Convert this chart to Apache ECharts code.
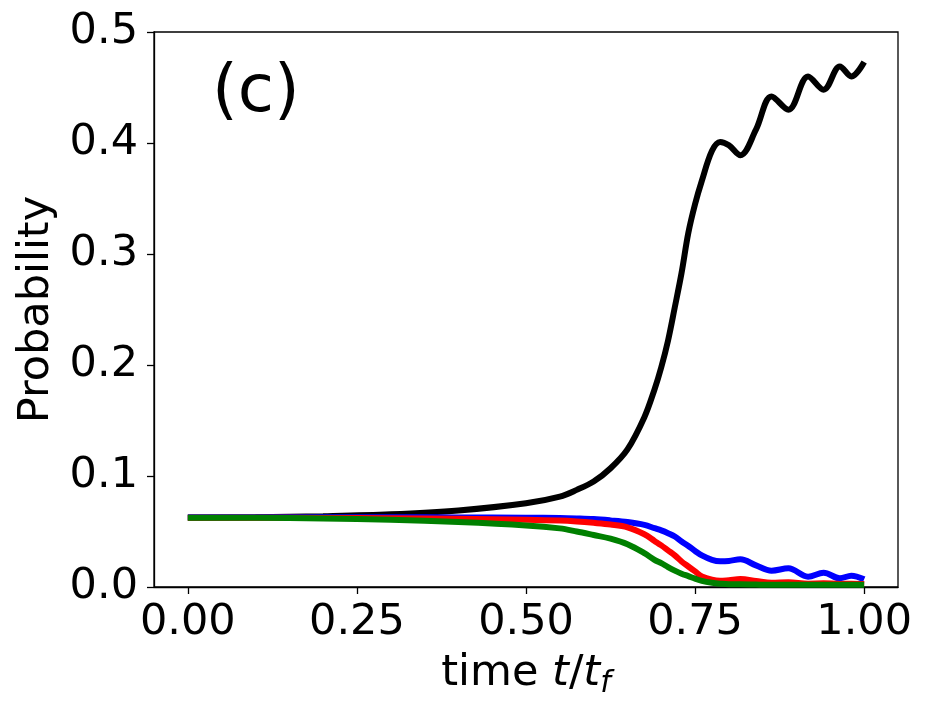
<!DOCTYPE html>
<html>
<head>
<meta charset="utf-8">
<title>Probability vs time</title>
<script src="https://cdn.jsdelivr.net/npm/echarts@6/dist/echarts.min.js"></script>
<style>
  html, body { margin: 0; padding: 0; background: #fff; }
  #main { width: 932px; height: 714px; }
</style>
</head>
<body>
<div id="main"></div>
<script>
// time t/t_f, shared by all curves
var timeT = [0, 0.1, 0.2, 0.3, 0.4, 0.5, 0.55, 0.575, 0.6, 0.625, 0.65, 0.675, 0.69, 0.7, 0.71,
  0.72, 0.73, 0.74, 0.75, 0.76, 0.775, 0.787, 0.8, 0.817, 0.84, 0.863, 0.888, 0.917, 0.94,
  0.964, 0.981, 1.0];

var probBlack = [0.0625, 0.0628, 0.0638, 0.0655, 0.069, 0.0755, 0.0815, 0.0875, 0.095, 0.107,
  0.124, 0.153, 0.178, 0.198, 0.222, 0.252, 0.283, 0.319, 0.345, 0.366, 0.393, 0.401, 0.398,
  0.389, 0.412, 0.442, 0.430, 0.460, 0.448, 0.469, 0.460, 0.473];

var probBlue = [0.0628, 0.0628, 0.0628, 0.0628, 0.0627, 0.0625, 0.0622, 0.0618, 0.0612, 0.060,
  0.0585, 0.056, 0.053, 0.051, 0.0485, 0.0455, 0.041, 0.037, 0.0325, 0.0285, 0.0245, 0.0232,
  0.0235, 0.0249, 0.0195, 0.0147, 0.0168, 0.0093, 0.0129, 0.0078, 0.0102, 0.0069];

var probRed = [0.0625, 0.0624, 0.0622, 0.0619, 0.0614, 0.0605, 0.0598, 0.059, 0.0578, 0.0563,
  0.0538, 0.0475, 0.0415, 0.0375, 0.033, 0.0285, 0.023, 0.0185, 0.014, 0.0095, 0.0065, 0.0056,
  0.0062, 0.0072, 0.0055, 0.0038, 0.0042, 0.003, 0.0033, 0.0028, 0.003, 0.0026];

var probGreen = [0.0625, 0.0623, 0.0617, 0.0605, 0.0585, 0.0555, 0.0528, 0.050, 0.0468, 0.0435,
  0.0385, 0.0305, 0.0245, 0.0215, 0.018, 0.0148, 0.012, 0.0098, 0.0075, 0.0055, 0.0038, 0.003,
  0.0025, 0.0025, 0.0022, 0.002, 0.002, 0.002, 0.002, 0.002, 0.002, 0.002];

var xTicks = [0, 0.25, 0.5, 0.75, 1.0];

var FONT = 'DejaVu Sans';

function pairs(ys) {
  return timeT.map(function (t, i) { return [t, ys[i]]; });
}

function curve(name, color, ys) {
  return {
    name: name,
    type: 'line',
    data: pairs(ys),
    showSymbol: false,
    smooth: 0.35,
    lineStyle: { color: color, width: 6 },
    itemStyle: { color: color }
  };
}

var chart = echarts.init(document.getElementById('main'));
chart.setOption({
  animation: false,
  backgroundColor: '#fff',
  grid: {
    left: 154, right: 34, top: 32, bottom: 127,
    show: true, borderColor: '#000', borderWidth: 1.3
  },
  xAxis: {
    type: 'value',
    min: -0.05,
    max: 1.05,
    name: '{n|time }{i|t}{n|/}{i|t}{s|f}',
    nameLocation: 'middle',
    nameGap: 62,
    nameTextStyle: {
      rich: {
        n: { fontFamily: FONT, fontSize: 43, color: '#000' },
        i: { fontFamily: FONT, fontSize: 43, fontStyle: 'italic', color: '#000' },
        s: { fontFamily: FONT, fontSize: 30, fontStyle: 'italic', color: '#000', padding: [20, 0, 0, 0] }
      }
    },
    splitLine: { show: false },
    axisLine: { onZero: false, lineStyle: { color: '#000', width: 1.3 } },
    axisTick: { show: true, length: 7, customValues: xTicks, lineStyle: { color: '#000', width: 1.3 } },
    axisLabel: {
      customValues: xTicks,
      fontFamily: FONT, fontSize: 43, color: '#000', margin: 14,
      formatter: function (v) { return v.toFixed(2); }
    }
  },
  yAxis: {
    type: 'value',
    min: 0,
    max: 0.5,
    interval: 0.1,
    name: 'Probability',
    nameLocation: 'middle',
    nameGap: 94,
    nameTextStyle: { fontFamily: FONT, fontSize: 43, color: '#000' },
    splitLine: { show: false },
    axisLine: { show: true, onZero: false, lineStyle: { color: '#000', width: 1.3 } },
    axisTick: { show: true, length: 7, lineStyle: { color: '#000', width: 1.3 } },
    axisLabel: {
      fontFamily: FONT, fontSize: 43, color: '#000', margin: 16,
      formatter: function (v) { return v.toFixed(1); }
    }
  },
  graphic: [{
    type: 'text',
    left: 212,
    top: 61,
    style: { text: '(c)', fontFamily: FONT, fontSize: 66, fill: '#000' }
  }],
  series: [
    curve('black', '#000000', probBlack),
    curve('blue', '#0000ff', probBlue),
    curve('red', '#ff0000', probRed),
    curve('green', '#008000', probGreen)
  ]
});
</script>
</body>
</html>
